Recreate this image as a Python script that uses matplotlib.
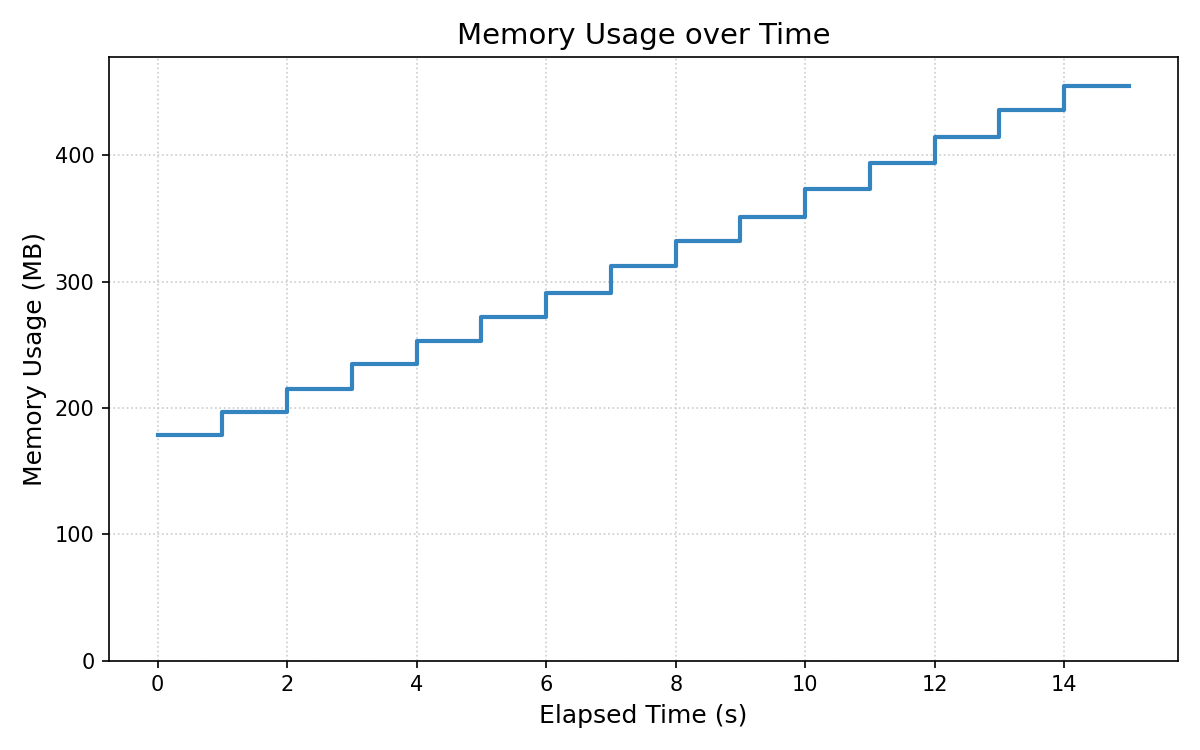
import matplotlib.pyplot as plt

# elapsed seconds and memory readings (MB)
elapsed = [0, 1, 2, 3, 4, 5, 6, 7, 8, 9, 10, 11, 12, 13, 14, 15]
memory_mb = [178.5, 197, 215, 235, 253, 272, 291, 312, 332.5, 351, 373, 393.5, 414.5, 435.5, 455, 455]

fig, ax = plt.subplots(figsize=(8, 5), dpi=150)
ax.step(elapsed, memory_mb, where='post', color='#3484c0', linewidth=2)

ax.set_title("Memory Usage over Time", fontsize=14)
ax.set_xlabel("Elapsed Time (s)", fontsize=12)
ax.set_ylabel("Memory Usage (MB)", fontsize=12)
ax.set_ylim(0, 477.75)
ax.grid(True, linestyle=':', color='#cccccc', linewidth=0.8)

fig.tight_layout()
fig.savefig("out.png")
